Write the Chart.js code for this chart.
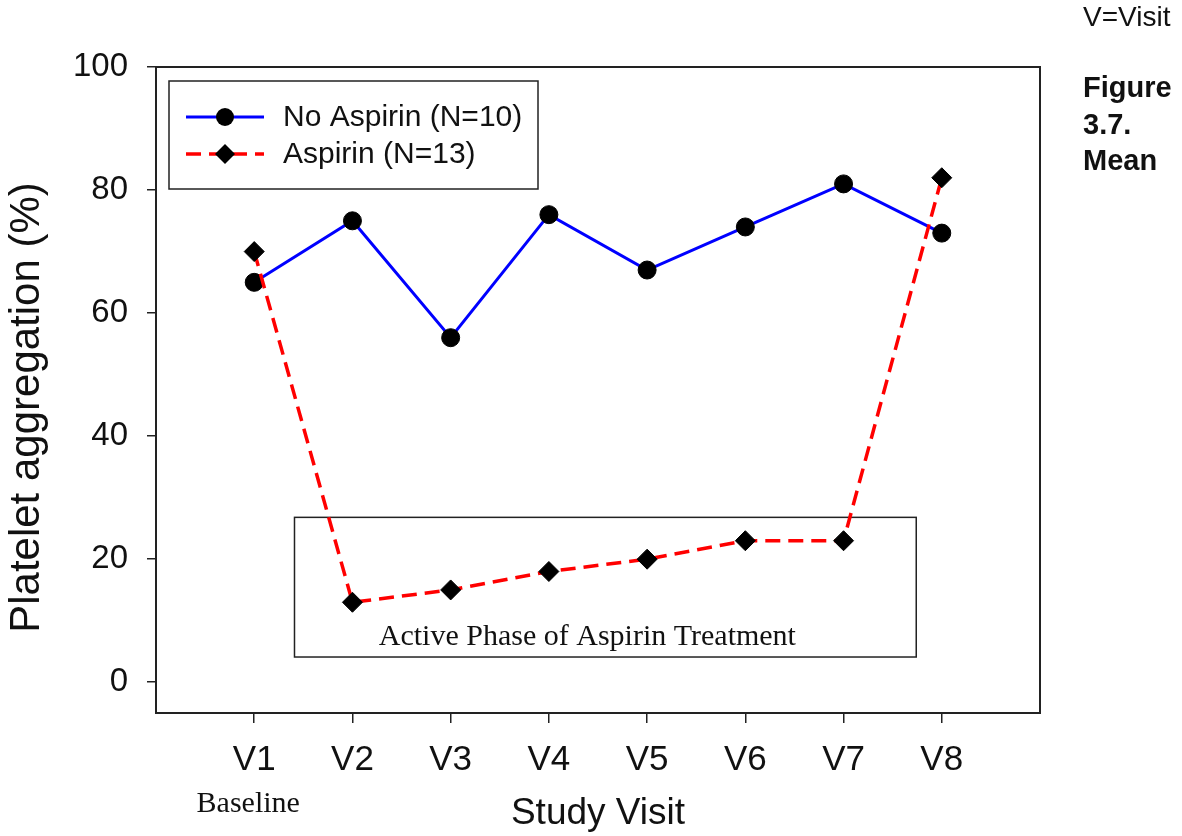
<!DOCTYPE html>
<html>
<head>
<meta charset="utf-8">
<script src="https://cdn.jsdelivr.net/npm/chart.js@4.4.1/dist/chart.umd.min.js"></script>
<style>
html,body{margin:0;padding:0;background:#fff;}
</style>
</head>
<body>
<canvas id="miGrafico" width="1182" height="836"></canvas>
<script>
const visitas=['V1','V2','V3','V4','V5','V6','V7','V8'];
const noAspirina=[65,75,56,76,67,74,81,73];
const aspirina=[70,13,15,18,20,23,23,82];
const ticksY=[0,20,40,60,80,100];
const etiquetasSerie=['No Aspirin (N=10)','Aspirin (N=13)'];

// caja "Active Phase" en unidades de los ejes: x desde, x hasta, y desde, y hasta
const faseActiva=[1.41,7.74,4.1,26.8];

const SANS='"Liberation Sans", Arial, sans-serif';
const SERIF='"Liberation Serif", "Times New Roman", serif';
Chart.defaults.font.family=SANS;
Chart.defaults.color='#111';

function marcador(ctx,tipo,x,y,r){
    ctx.beginPath();
    if(tipo==='circle'){
        ctx.arc(x,y,r,0,Math.PI*2);
    }else{
        ctx.moveTo(x,y-r);ctx.lineTo(x+r,y);ctx.lineTo(x,y+r);ctx.lineTo(x-r,y);ctx.closePath();
    }
    ctx.fillStyle='#000';
    ctx.fill();
}

const extras={
    id:'extras',
    beforeDatasetsDraw(chart){
        const {ctx,scales:{x,y},chartArea:a}=chart;
        ctx.save();
        ctx.strokeStyle='#222';
        ctx.lineWidth=2;
        ctx.strokeRect(a.left,a.top,a.right-a.left,a.bottom-a.top);
        const x0=x.getPixelForValue(faseActiva[0]),x1=x.getPixelForValue(faseActiva[1]);
        const y0=y.getPixelForValue(faseActiva[3]),y1=y.getPixelForValue(faseActiva[2]);
        ctx.lineWidth=1.5;
        ctx.strokeRect(x0,y0,x1-x0,y1-y0);
        ctx.font='30px '+SERIF;
        ctx.fillStyle='#111';
        ctx.textAlign='center';
        ctx.textBaseline='alphabetic';
        ctx.fillText('Active Phase of Aspirin Treatment',(x0+x1)/2-18,y1-12);
        ctx.restore();
    },
    afterDraw(chart){
        const {ctx,scales:{x}}=chart;
        ctx.save();
        ctx.fillStyle='#111';
        ctx.textBaseline='alphabetic';
        ctx.textAlign='center';
        ctx.font='30px '+SERIF;
        ctx.fillText('Baseline',x.getPixelForValue(1)-6,812);

        ctx.textAlign='left';
        ctx.font='28px '+SANS;
        ctx.fillText('V=Visit',1083,26);
        ctx.font='bold 29px '+SANS;
        ctx.fillText('Figure',1083,97);
        ctx.fillText('3.7.',1083,134);
        ctx.fillText('Mean',1083,170);

        // leyenda con marco
        ctx.strokeStyle='#222';
        ctx.lineWidth=1.5;
        ctx.strokeRect(169,81,369,108);
        ctx.font='30px '+SANS;
        ctx.textBaseline='middle';
        chart.data.datasets.forEach((ds,i)=>{
            const yy=117+i*37;
            ctx.beginPath();
            ctx.setLineDash(ds.borderDash||[]);
            ctx.strokeStyle=ds.borderColor;
            ctx.lineWidth=ds.borderWidth;
            ctx.moveTo(186,yy);ctx.lineTo(264,yy);
            ctx.stroke();
            ctx.setLineDash([]);
            marcador(ctx,ds.pointStyle,225,yy,ds.pointRadius);
            ctx.fillStyle='#111';
            ctx.fillText(ds.label,283,yy+1);
        });
        ctx.restore();
    }
};

const ctx=document.getElementById('miGrafico').getContext('2d');
const miGrafico=new Chart(ctx,{
    type:'line',
    data:{
        datasets:[{
            label:etiquetasSerie[0],
            data:noAspirina.map((v,i)=>({x:i+1,y:v})),
            borderColor:'#0000ff',
            borderWidth:3,
            pointStyle:'circle',
            pointRadius:9,
            pointBackgroundColor:'#000',
            pointBorderColor:'#000',
            pointBorderWidth:1,
            order:1
        },{
            label:etiquetasSerie[1],
            data:aspirina.map((v,i)=>({x:i+1,y:v})),
            borderColor:'#ff0000',
            borderWidth:3.5,
            borderDash:[15,8],
            pointStyle:'rectRot',
            pointRadius:10,
            pointBackgroundColor:'#000',
            pointBorderColor:'#000',
            pointBorderWidth:1,
            order:0
        }]
    },
    options:{
        responsive:false,
        animation:false,
        layout:{padding:{left:0,top:67,right:142,bottom:0}},
        plugins:{legend:{display:false},tooltip:{enabled:false}},
        scales:{
            x:{
                type:'linear',
                min:0,max:visitas.length+1,
                afterBuildTicks:(s)=>{s.ticks=visitas.map((v,i)=>({value:i+1}));},
                afterFit:(s)=>{s.height=123;},
                border:{display:false},
                grid:{display:true,drawOnChartArea:false,drawTicks:true,tickLength:10,color:'#222',lineWidth:1.5},
                ticks:{
                    padding:16,
                    font:{size:35},
                    color:'#111',
                    maxRotation:0,
                    callback:(v)=>visitas[v-1]
                },
                title:{display:true,text:'Study Visit',font:{size:37},color:'#111',padding:{top:0,bottom:0}}
            },
            y:{
                min:-5,max:100,
                afterBuildTicks:(s)=>{s.ticks=ticksY.map(v=>({value:v}));},
                afterFit:(s)=>{s.width=156;},
                border:{display:false},
                grid:{display:true,drawOnChartArea:false,drawTicks:true,tickLength:9,color:'#222',lineWidth:1.5},
                ticks:{padding:19,font:{size:33},color:'#111'},
                // los espacios finales bajan un poco el texto, como en la figura
                title:{display:true,text:'Platelet aggregation (%)\u00a0\u00a0\u00a0',font:{size:42},color:'#111',padding:{top:2,bottom:0}}
            }
        }
    },
    plugins:[extras]
});
</script>
</body>
</html>
